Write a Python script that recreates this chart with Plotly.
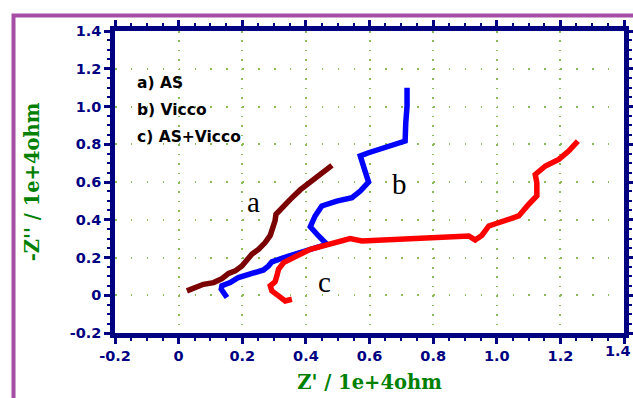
import plotly.graph_objects as go

# Data (Z' and -Z'' in units of 1e+4 ohm)
a_x = [0.026, 0.052, 0.078, 0.110, 0.136, 0.157, 0.178, 0.199, 0.214, 0.230, 0.251, 0.272,
       0.288, 0.298, 0.303, 0.306, 0.324, 0.351, 0.382, 0.419, 0.450, 0.482]
a_y = [0.023, 0.041, 0.058, 0.067, 0.088, 0.116, 0.129, 0.155, 0.182, 0.217, 0.243, 0.279,
       0.317, 0.358, 0.394, 0.429, 0.464, 0.508, 0.558, 0.605, 0.649, 0.688]

b_x = [0.152, 0.134, 0.136, 0.162, 0.188, 0.214, 0.241, 0.267, 0.283, 0.293, 0.346, 0.398,
       0.466, 0.440, 0.414, 0.429, 0.450, 0.497, 0.545, 0.571, 0.597, 0.586, 0.571, 0.597,
       0.649, 0.712, 0.714, 0.718, 0.718]
b_y = [-0.012, 0.032, 0.050, 0.067, 0.094, 0.106, 0.120, 0.134, 0.156, 0.177, 0.208, 0.235,
       0.270, 0.314, 0.363, 0.420, 0.473, 0.499, 0.517, 0.552, 0.600, 0.658, 0.738, 0.755,
       0.781, 0.817, 0.914, 1.002, 1.099]

c_x = [0.356, 0.335, 0.314, 0.293, 0.288, 0.303, 0.309, 0.314, 0.330, 0.356, 0.382, 0.414,
       0.471, 0.503, 0.539, 0.576, 0.649, 0.754, 0.838, 0.912, 0.932, 0.953, 0.975, 1.006,
       1.032, 1.069, 1.100, 1.126, 1.126, 1.121, 1.153, 1.195, 1.226, 1.255]
c_y = [-0.021, -0.030, -0.003, 0.023, 0.050, 0.071, 0.103, 0.138, 0.173, 0.199, 0.217, 0.243,
       0.270, 0.283, 0.300, 0.288, 0.293, 0.300, 0.307, 0.314, 0.293, 0.317, 0.367, 0.385,
       0.402, 0.420, 0.481, 0.526, 0.596, 0.640, 0.685, 0.720, 0.764, 0.817]

tick_vals = [-0.2, 0, 0.2, 0.4, 0.6, 0.8, 1.0, 1.2, 1.4]
tick_text = ["-0.2", "0", "0.2", "0.4", "0.6", "0.8", "1.0", "1.2", "1.4"]

legend_lines = ["a) AS", "b) Vicco", "c) AS+Vicco"]
legend_y = [1.125, 0.982, 0.836]
curve_labels = ["a", "b", "c"]
curve_label_x = [0.236, 0.693, 0.458]
curve_label_y = [0.496, 0.590, 0.072]

NAVY = "#000080"
GRID = "#8fbc5a"
TICKFONT = dict(family="DejaVu Sans", size=14.5, color=NAVY, weight="bold")

fig = go.Figure()
fig.add_trace(go.Scatter(x=a_x, y=a_y, mode="lines", line=dict(color="#7b0000", width=5.5)))
fig.add_trace(go.Scatter(x=b_x, y=b_y, mode="lines", line=dict(color="#0000ff", width=5.5)))
fig.add_trace(go.Scatter(x=c_x, y=c_y, mode="lines", line=dict(color="#ff0000", width=5.5)))

axis_common = dict(
    range=[-0.2, 1.4], tickvals=tick_vals, automargin=False,
    showline=True, linecolor=NAVY, linewidth=4.5, mirror="allticks",
    ticks="outside", ticklen=6, tickwidth=2.5, tickcolor=NAVY,
    tickfont=TICKFONT,
    zeroline=False, showgrid=True, gridcolor=GRID, gridwidth=1.5,
    minor=dict(dtick=0.05, ticks="outside", ticklen=3, tickwidth=2, tickcolor=NAVY, showgrid=False),
)

# the last x label would run off the page edge, so plotly would drop it: draw it as text instead
x_tick_text = tick_text[:-1] + [""]

fig.update_xaxes(**axis_common, ticktext=x_tick_text, griddash="1.5px,7.94px",
                 title=dict(text="Z' / 1e+4ohm", standoff=14,
                            font=dict(family="DejaVu Serif", size=19.5, color="#008000", weight="bold")))
fig.update_yaxes(**axis_common, ticktext=tick_text, griddash="1.5px,14.4px",
                 title=dict(text="-Z'' / 1e+4ohm", standoff=26,
                            font=dict(family="DejaVu Serif", size=19.5, color="#008000", weight="bold")))

fig.add_annotation(x=1.0175, y=0, xref="paper", yref="paper", text=tick_text[-1],
                   showarrow=False, xanchor="right", yanchor="top", yshift=-8,
                   font=TICKFONT)

for txt, yy in zip(legend_lines, legend_y):
    fig.add_annotation(x=-0.138, y=yy, xref="x", yref="y", text=txt, showarrow=False,
                       xanchor="left", yanchor="middle",
                       font=dict(family="DejaVu Sans", size=15.5, color="black", weight="bold"))

for txt, xx, yy in zip(curve_labels, curve_label_x, curve_label_y):
    fig.add_annotation(x=xx, y=yy, xref="x", yref="y", text=txt, showarrow=False,
                       xanchor="center", yanchor="middle",
                       font=dict(family="Liberation Serif", size=29, color="black"))

fig.add_shape(type="rect", xref="paper", yref="paper", x0=-0.1994, x1=1.06, y0=-0.3, y1=1.0513,
              line=dict(color="#a54ea5", width=4), layer="above")

fig.update_layout(
    width=633, height=398, showlegend=False,
    margin=dict(l=115, r=9, t=31, b=65),
    paper_bgcolor="white", plot_bgcolor="white",
)

fig.write_html("out.html")
